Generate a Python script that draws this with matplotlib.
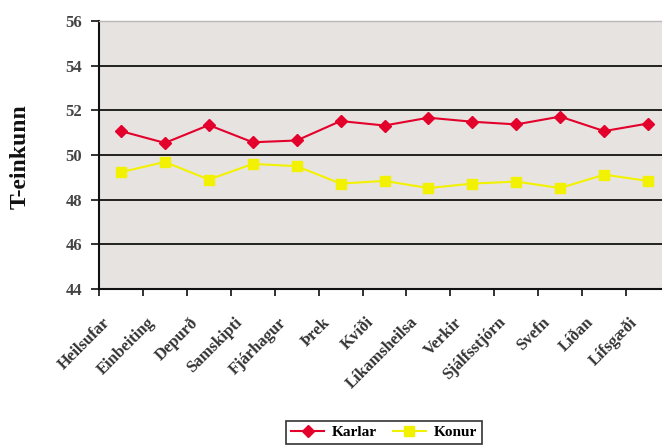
import matplotlib
matplotlib.use("Agg")
import matplotlib.pyplot as plt
import matplotlib.transforms as mtransforms
import numpy as np

categories = ["Heilsufar", "Einbeiting", "Depurð", "Samskipti", "Fjárhagur", "Þrek",
              "Kvíði", "Líkamsheilsa", "Verkir", "Sjálfsstjórn", "Svefn", "Líðan", "Lífsgæði"]
karlar = [51.07, 50.54, 51.34, 50.57, 50.65, 51.52, 51.32, 51.67, 51.49, 51.37, 51.72, 51.07, 51.41]
konur = [49.23, 49.69, 48.90, 49.60, 49.50, 48.72, 48.84, 48.52, 48.72, 48.81, 48.52, 49.12, 48.84]
yticks = [44, 46, 48, 50, 52, 54, 56]

plt.rcParams['font.family'] = ['Liberation Serif', 'DejaVu Serif']

fig = plt.figure(figsize=(6.62, 4.45), dpi=100)
ax = fig.add_axes([99/662, 1-289/445, 571/662, 268/445])
ax.set_facecolor('#E7E3E1')

x = np.arange(len(categories))
ax.plot(x, karlar, color='#E3002B', marker='D', markersize=6, lw=1.5, label='Karlar', zorder=3)
ax.plot(x, konur, color='#F2F200', marker='s', markersize=7, lw=1.5, label='Konur', zorder=3)

ax.set_xlim(-0.5, len(categories) - 0.5)
ax.set_ylim(44, 56)
ax.set_yticks(yticks)
ax.set_yticklabels([str(v) for v in yticks], fontsize=12, fontweight='bold', color='#444444')
for v in yticks[1:-1]:
    ax.axhline(v, color='black', lw=1.2, zorder=1)

ax.set_xticks(x)
ax.set_xticklabels([])
ax.tick_params(axis='x', which='major', length=0)
base = mtransforms.blended_transform_factory(ax.transData, ax.transAxes)
offset = mtransforms.ScaledTranslation(-13/100, -31/100, fig.dpi_scale_trans)
for i, cat in enumerate(categories):
    ax.text(i, 0, cat, transform=base + offset, rotation=45, rotation_mode='anchor',
            ha='right', va='center', fontsize=12, fontweight='bold', color='#333333',
            clip_on=False)
ax.set_xticks(np.arange(-0.5, len(categories) + 0.5, 1), minor=True)
ax.tick_params(axis='x', which='minor', length=5, width=1.3, direction='out', color='#222222')
ax.tick_params(axis='y', length=6, width=1.3, direction='out', color='#222222', pad=6)

for s in ['left', 'bottom']:
    ax.spines[s].set_color('#111111')
    ax.spines[s].set_linewidth(1.5)
ax.spines['top'].set_color('#BBB6B3')
ax.spines['top'].set_linewidth(1)
ax.spines['right'].set_visible(False)

fig.text(20/662, 1-157/445, 'T-einkunn', rotation=90, ha='center', va='center',
         fontsize=17, fontweight='bold', color='#111111')

leg = fig.legend(loc='upper center', bbox_to_anchor=(384/662, 1-413/445), ncol=2,
                 frameon=True, fancybox=False, edgecolor='black', prop={'size': 11, 'weight': 'bold'},
                 handlelength=2.2, columnspacing=1.0, handletextpad=0.5, borderpad=0.3)
leg.get_frame().set_linewidth(1.2)

fig.savefig('out.png', dpi=100)
